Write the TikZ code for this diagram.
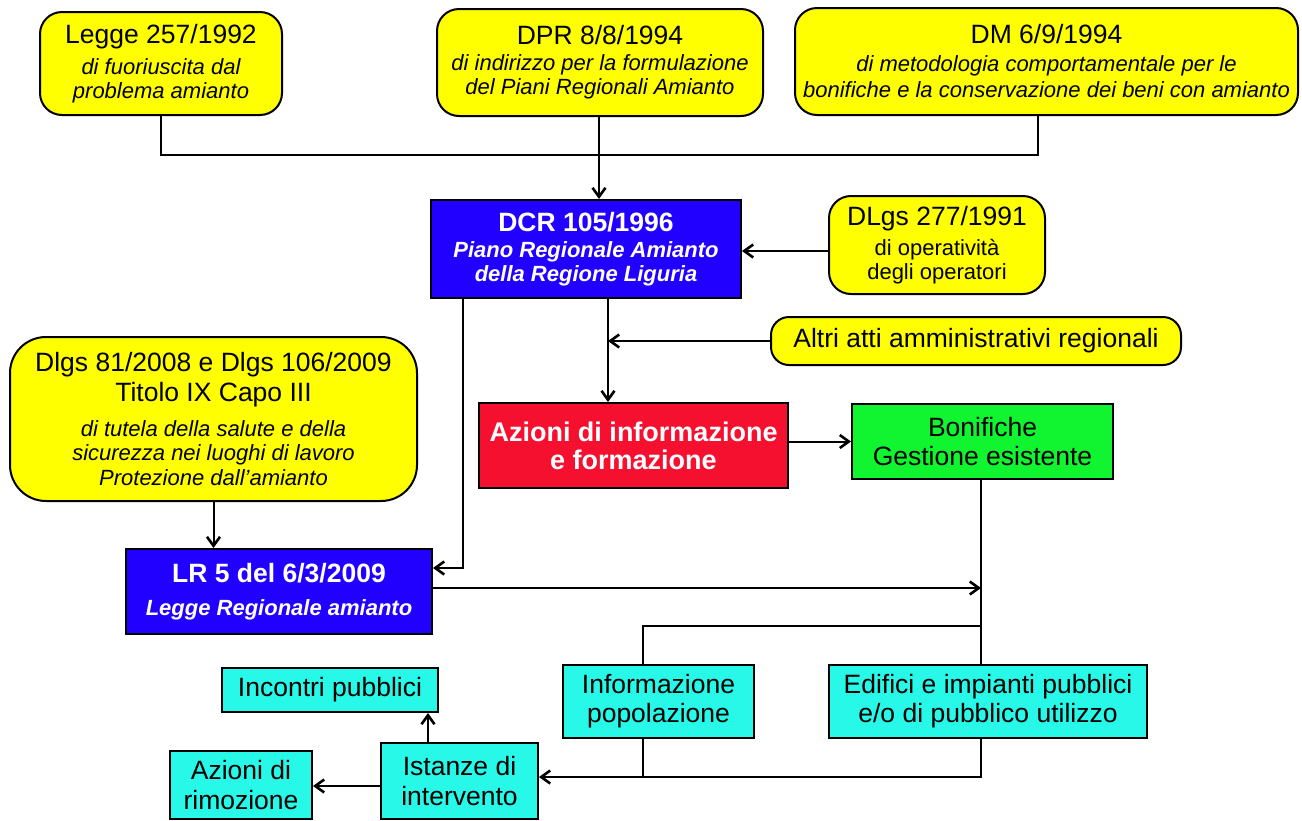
\documentclass[tikz,border=0pt]{standalone}
\usepackage{fontspec}
\setmainfont{Liberation Sans}
\usetikzlibrary{arrows.meta}
\definecolor{yel}{RGB}{255,255,0}
\definecolor{blu}{RGB}{34,0,255}
\definecolor{rd}{RGB}{245,16,48}
\definecolor{grn}{RGB}{16,245,48}
\definecolor{cyn}{RGB}{40,248,232}
\newcommand{\fmain}{\fontsize{26.5}{30}\selectfont}
\newcommand{\fsub}{\fontsize{22}{24}\selectfont}
\begin{document}
\begin{tikzpicture}[x=1pt,y=-1pt,
  box/.style={draw=black,line width=2pt,inner sep=0pt,align=center,font=\fsub},
  ybox/.style={box,fill=yel,rounded corners=22pt},
  bbox/.style={box,fill=blu,text=white},
  rbox/.style={box,fill=rd,text=white},
  gbox/.style={box,fill=grn,font=\fmain},
  cbox/.style={box,fill=cyn,font=\fmain},
  conn/.style={line width=2pt,draw=black},
  arr/.style={conn,-{Straight Barb[length=9pt,width=13pt,line width=2.6pt]}}]
\useasboundingbox (0,0) rectangle (1302,820);

% yellow source boxes
\node[ybox,minimum width=242pt,minimum height=103pt] (legge) at (161,63.5)
  {{\fmain Legge 257/1992}\\[7pt]\fontsize{22}{23.5}\selectfont\itshape di fuoriuscita dal\\\itshape problema amianto};
\node[ybox,minimum width=326pt,minimum height=107pt] (dpr) at (600,62.5)
  {{\fmain DPR 8/8/1994}\\[2pt]\itshape di indirizzo per la formulazione\\\itshape del Piani Regionali Amianto};
\node[ybox,minimum width=503pt,minimum height=107pt] (dm) at (1046.5,61.5)
  {{\fmain DM 6/9/1994}\\[4pt]\itshape di metodologia comportamentale per le\\[2pt]\itshape bonifiche e la conservazione dei beni con amianto};
\node[ybox,minimum width=216pt,minimum height=98pt] (dlgsB) at (937,245)
  {{\fmain DLgs 277/1991}\\[6pt]\fontsize{22}{22}\selectfont di operatività\\degli operatori};
\node[ybox,rounded corners=18pt,minimum width=410pt,minimum height=48pt,font=\fmain] (altri) at (976,341)
  {Altri atti amministrativi regionali};
\node[ybox,rounded corners=36pt,minimum width=407pt,minimum height=164pt] (dlgsA) at (213.5,419)
  {{\fmain Dlgs 81/2008 e Dlgs 106/2009}\\[5pt]{\fmain Titolo IX Capo III}\\[11pt]\itshape di tutela della salute e della\\\itshape sicurezza nei luoghi di lavoro\\[1pt]\itshape Protezione dall’amianto};

% blue boxes
\node[bbox,minimum width=310pt,minimum height=98pt] (dcr) at (586,249)
  {{\fmain\bfseries DCR 105/1996}\\[2pt]\bfseries\itshape Piano Regionale Amianto\\\bfseries\itshape della Regione Liguria};
\node[bbox,minimum width=306pt,minimum height=85pt] (lr) at (279,591.5)
  {{\fmain\bfseries LR 5 del 6/3/2009}\\[9pt]\bfseries\itshape Legge Regionale amianto};

% red and green
\node[rbox,minimum width=309pt,minimum height=85pt,font=\fontsize{27}{28}\selectfont\bfseries] (azioni) at (633.5,445.5)
  {Azioni di informazione\\e formazione};
\node[gbox,minimum width=261pt,minimum height=75pt] (bonif) at (982.5,441.5)
  {Bonifiche\\[-1pt]Gestione esistente};

% cyan boxes
\node[cbox,minimum width=191pt,minimum height=73pt] (info) at (658.5,701.5)
  {Informazione\\[-1pt]popolazione};
\node[cbox,minimum width=318pt,minimum height=73pt] (edif) at (988,701.5)
  {Edifici e impianti pubblici\\[-1pt]e/o di pubblico utilizzo};
\node[cbox,minimum width=216pt,minimum height=44pt] (incontri) at (330,690)
  {Incontri pubblici};
\node[cbox,minimum width=157pt,minimum height=76pt] (istanze) at (459.5,781)
  {Istanze di\\intervento};
\node[cbox,minimum width=142pt,minimum height=68pt] (rimoz) at (241,785)
  {Azioni di\\rimozione};

% connectors
\coordinate (topj) at (599,155);
\draw[conn] (legge.south) |- (topj) -| ([xshift=-8.5pt]dm.south);
\draw[arr] (dpr.south -| topj) -- (topj |- dcr.north);
\draw[arr] ([yshift=-6pt]dlgsB.west) -- ([yshift=-6pt]dlgsB.west -| dcr.east);
\coordinate (dcrc) at (608,298);
\draw[arr] (dcrc) -- (dcrc |- azioni.north);
\draw[arr] (altri.west) -- (altri.west -| dcrc);
\draw[arr] (azioni.east |- bonif.west) -- (bonif.west);
\coordinate (dcrl) at (463,298);
\coordinate (lrin) at (463,568);
\draw[arr] (dcrl) -- (lrin) -- (lrin -| lr.east);
\draw[arr] (dlgsA.south) -- (dlgsA.south |- lr.north);
\coordinate (vb) at (981,479);
\coordinate (lrout) at (432,588);
\draw[arr] (lrout) -- (lrout -| vb);
\draw[conn] (vb) -- (vb |- edif.north);
\coordinate (infx) at (643,665);
\draw[conn] (vb |- 0,626) -| (infx);
\coordinate (botj) at (643,777);
\draw[conn] (vb |- edif.south) |- (botj);
\draw[conn] (infx |- info.south) -- (botj);
\draw[arr] (botj) -- (botj -| istanze.east);
\coordinate (istup) at (428,742);
\draw[arr] (istup) -- (istup |- incontri.south);
\draw[arr] (istanze.west |- 0,786) -- (rimoz.east |- 0,786);
\end{tikzpicture}
\end{document}
